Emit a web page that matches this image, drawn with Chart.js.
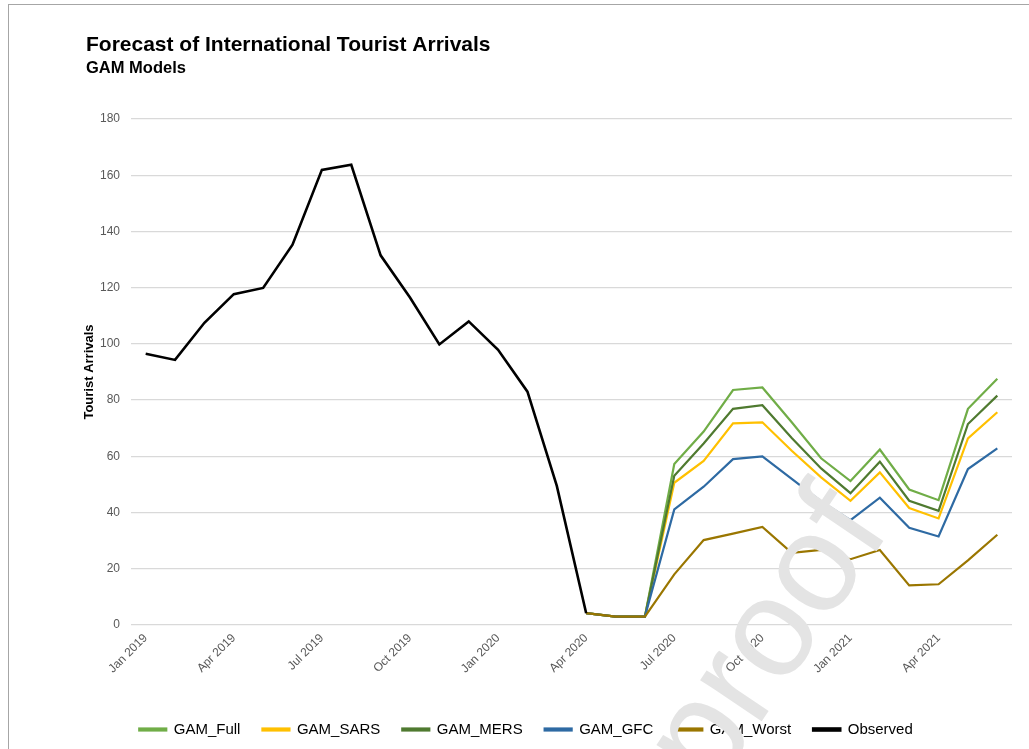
<!DOCTYPE html>
<html>
<head>
<meta charset="utf-8">
<script src="https://cdn.jsdelivr.net/npm/chart.js@4.4.1/dist/chart.umd.min.js"></script>
<style>
  html, body { margin: 0; padding: 0; background: #ffffff; }
  #wrap { position: relative; width: 1029px; height: 749px; overflow: hidden; background: #fff; }
  #frame { position: absolute; left: 8px; top: 4px; width: 1100px; height: 800px; border: 1px solid #a6a6a6; box-sizing: border-box; pointer-events: none; }
  #c { position: absolute; left: 0; top: 0; }
</style>
</head>
<body>
<div id="wrap">
  <div id="frame"></div>
  <canvas id="c" width="1029" height="749"></canvas>
</div>
<script>
// ---- Data ----
const months = [
  "Jan 2019","Feb 2019","Mar 2019","Apr 2019","May 2019","Jun 2019",
  "Jul 2019","Aug 2019","Sep 2019","Oct 2019","Nov 2019","Dec 2019",
  "Jan 2020","Feb 2020","Mar 2020","Apr 2020","May 2020","Jun 2020",
  "Jul 2020","Aug 2020","Sep 2020","Oct 2020","Nov 2020","Dec 2020",
  "Jan 2021","Feb 2021","Mar 2021","Apr 2021","May 2021","Jun 2021"
];
// Observed: Jan 2019 - Apr 2020
const observed = [96.5, 94.3, 107.5, 117.7, 119.9, 135.3, 161.9, 163.7, 131.5, 116.5, 99.8, 108.0, 97.9, 83.0, 49.5, 4.2];
// Forecasts: Apr 2020 - Jun 2021
const forecastStart = 15;
const gamFull  = [4.2, 3.0, 3.0, 57.3, 68.8, 83.6, 84.5, 72.1, 59.3, 51.2, 62.4, 48.2, 44.4, 76.9, 87.6];
const gamSARS  = [4.2, 3.0, 3.0, 50.6, 58.4, 71.7, 72.1, 62.0, 52.5, 44.2, 54.3, 41.6, 37.9, 66.4, 75.7];
const gamMERS  = [4.2, 3.0, 3.0, 53.1, 64.6, 76.9, 78.2, 66.5, 55.7, 46.9, 58.1, 44.2, 40.6, 71.5, 81.6];
const gamGFC   = [4.2, 3.0, 3.0, 41.1, 49.2, 59.0, 60.0, 52.0, 44.0, 37.3, 45.3, 34.6, 31.5, 55.5, 62.8];
const gamWorst = [4.2, 3.0, 3.0, 18.0, 30.2, 32.5, 34.9, 25.7, 26.7, 23.4, 26.7, 14.1, 14.5, 23.0, 32.1];
const yTicks = [0, 20, 40, 60, 80, 100, 120, 140, 160, 180];

function padSeries(arr, start) {
  const out = new Array(months.length).fill(null);
  arr.forEach((v, i) => { out[start + i] = v; });
  return out;
}

const FONT = "'Liberation Sans', Arial, sans-serif";

const watermark = {
  id: 'watermark',
  afterDatasetsDraw(chart) {
    const ctx = chart.ctx;
    ctx.save();
    ctx.translate(770, 640);
    ctx.rotate(-56 * Math.PI / 180);
    ctx.font = "140px " + FONT;
    ctx.fillStyle = "#e4e4e4";
    ctx.textAlign = "center";
    ctx.textBaseline = "middle";
    ctx.fillText("proof", 0, 0);
    ctx.restore();
  }
};

const legendShift = {
  id: 'legendShift',
  afterLayout(chart) {
    const l = chart.legend;
    if (l) { l.left -= 23; l.right -= 23; }
  }
};

function ds(label, data, color, width, order) {
  return {
    label, data, borderColor: color, backgroundColor: color,
    borderWidth: width, pointRadius: 0, pointHoverRadius: 0,
    tension: 0, spanGaps: false, fill: false, order
  };
}

new Chart(document.getElementById('c'), {
  type: 'line',
  data: {
    labels: months,
    datasets: [
      ds('GAM_Full',  padSeries(gamFull, forecastStart),  '#70ad47', 2.2, 5),
      ds('GAM_SARS',  padSeries(gamSARS, forecastStart),  '#ffc000', 2.2, 4),
      ds('GAM_MERS',  padSeries(gamMERS, forecastStart),  '#4f7a30', 2.2, 3),
      ds('GAM_GFC',   padSeries(gamGFC, forecastStart),   '#2e6aa3', 2.2, 2),
      ds('GAM_Worst', padSeries(gamWorst, forecastStart), '#9a7600', 2.2, 1),
      ds('Observed',  padSeries(observed, 0),             '#000000', 2.6, 0)
    ]
  },
  plugins: [watermark, legendShift],
  options: {
    responsive: false,
    animation: false,
    events: [],
    layout: { padding: { left: 86, right: 17, top: 0, bottom: 2 } },
    plugins: {
      title: {
        display: true, text: 'Forecast of International Tourist Arrivals',
        align: 'start', color: '#000',
        font: { family: FONT, size: 21, weight: 'bold' },
        padding: { top: 33, bottom: 0 }
      },
      subtitle: {
        display: true, text: 'GAM Models',
        align: 'start', color: '#000',
        font: { family: FONT, size: 16.5, weight: 'bold' },
        padding: { top: 0, bottom: 41 }
      },
      legend: {
        position: 'bottom',
        labels: {
          boxWidth: 27, boxHeight: 2, padding: 22,
          color: '#000',
          font: { family: FONT, size: 15 },
          sort: (a, b) => a.datasetIndex - b.datasetIndex
        }
      },
      tooltip: { enabled: false }
    },
    scales: {
      x: {
        offset: true,
        grid: { display: false, drawTicks: false },
        border: { display: false },
        ticks: {
          autoSkip: false, minRotation: 45, maxRotation: 45, padding: 6,
          color: '#595959', font: { family: FONT, size: 12 },
          callback: function(v, i) { return i % 3 === 0 ? months[i] : ''; }
        },
        afterFit(scale) { scale.height = 75; }
      },
      y: {
        min: 0, max: 180,
        afterBuildTicks(scale) { scale.ticks = yTicks.map(v => ({ value: v })); },
        grid: { color: '#d9d9d9', lineWidth: 1.3, drawTicks: false },
        border: { display: false },
        ticks: { padding: 11, color: '#595959', font: { family: FONT, size: 12 } },
        title: {
          display: true, text: 'Tourist Arrivals', color: '#000',
          font: { family: FONT, size: 13, weight: 'bold' },
          padding: { top: -4, bottom: 0 }
        },
        afterFit(scale) { scale.width = 45; }
      }
    }
  }
});
</script>
</body>
</html>
